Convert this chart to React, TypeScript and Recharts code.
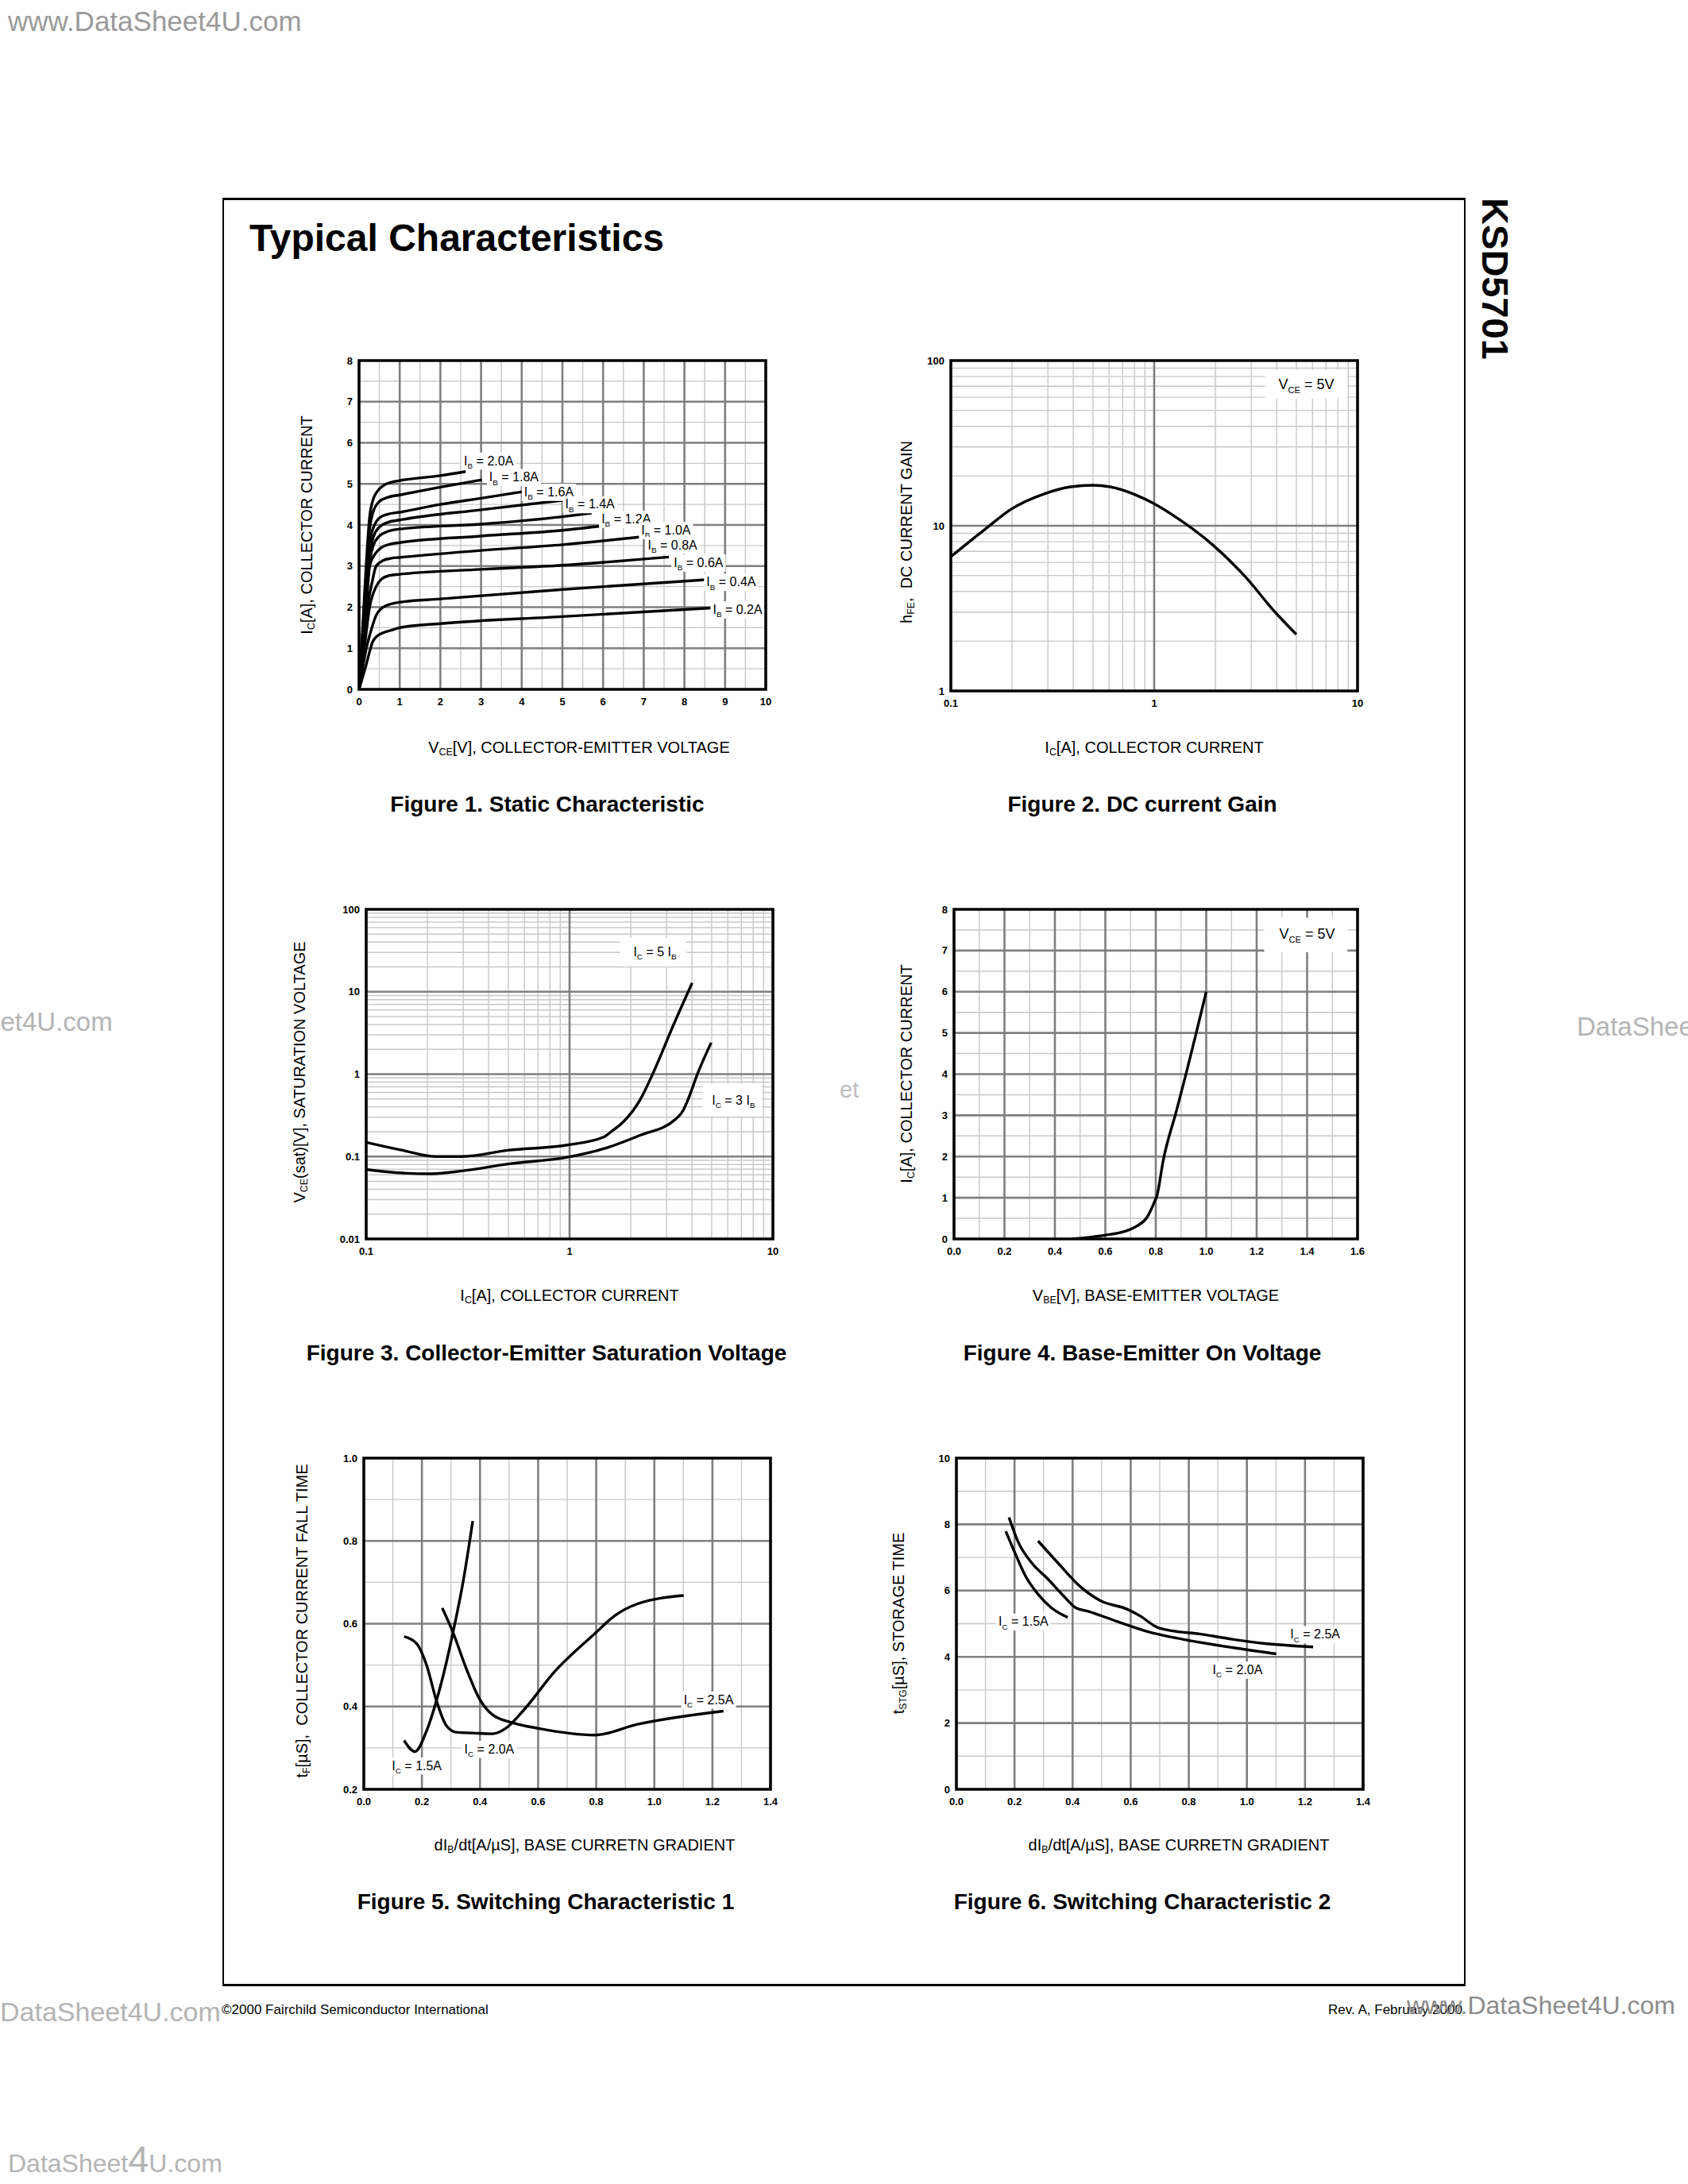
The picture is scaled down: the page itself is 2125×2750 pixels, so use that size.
import React from 'react';
import { LineChart, Line, XAxis, YAxis, ReferenceLine, ReferenceArea, ReferenceDot } from 'recharts';

const FONT = '"Liberation Sans", Arial, Helvetica, sans-serif';

type Pt = { x: number; y: number };
type Part = [string, boolean];
type Lbl = { x: number; y: number; parts: Part[] };
type Box = { x1: number; x2: number; y1: number; y2: number };

// ---------- Figure 1: Static Characteristic ----------
const fig1Ib02: Pt[] = [
  { x: 0, y: 0 }, { x: 0.17, y: 0.58 }, { x: 0.34, y: 1.17 }, { x: 0.45, y: 1.3 }, { x: 0.6, y: 1.38 },
  { x: 0.8, y: 1.44 }, { x: 1.0, y: 1.5 }, { x: 2, y: 1.6 }, { x: 5, y: 1.77 }, { x: 9.02, y: 2.0 },
];
const fig1Ib04: Pt[] = [
  { x: 0, y: 0 }, { x: 0.18, y: 1.0 }, { x: 0.3, y: 1.45 }, { x: 0.42, y: 1.8 }, { x: 0.55, y: 1.97 },
  { x: 0.7, y: 2.05 }, { x: 1.0, y: 2.12 }, { x: 2, y: 2.2 }, { x: 5, y: 2.43 }, { x: 8.55, y: 2.67 },
];
const fig1Ib06: Pt[] = [
  { x: 0, y: 0 }, { x: 0.13, y: 1.0 }, { x: 0.26, y: 2.0 }, { x: 0.42, y: 2.5 }, { x: 0.55, y: 2.68 },
  { x: 0.75, y: 2.77 }, { x: 1.0, y: 2.8 }, { x: 3, y: 2.92 }, { x: 5, y: 3.02 }, { x: 7.62, y: 3.22 },
];
const fig1Ib08: Pt[] = [
  { x: 0, y: 0 }, { x: 0.12, y: 1.0 }, { x: 0.21, y: 2.0 }, { x: 0.32, y: 2.6 }, { x: 0.42, y: 3.0 },
  { x: 0.6, y: 3.14 }, { x: 0.8, y: 3.19 }, { x: 1.0, y: 3.21 }, { x: 3, y: 3.38 }, { x: 5, y: 3.52 }, { x: 7.02, y: 3.72 },
];
const fig1Ib10: Pt[] = [
  { x: 0, y: 0 }, { x: 0.1, y: 1.0 }, { x: 0.18, y: 2.0 }, { x: 0.26, y: 3.0 }, { x: 0.4, y: 3.3 },
  { x: 0.55, y: 3.45 }, { x: 0.75, y: 3.53 }, { x: 1.0, y: 3.57 }, { x: 3, y: 3.73 }, { x: 5, y: 3.87 }, { x: 6.02, y: 3.98 },
];
const fig1Ib12: Pt[] = [
  { x: 0, y: 0 }, { x: 0.1, y: 1.1 }, { x: 0.18, y: 2.2 }, { x: 0.26, y: 3.1 }, { x: 0.35, y: 3.5 },
  { x: 0.5, y: 3.73 }, { x: 0.7, y: 3.84 }, { x: 1.0, y: 3.9 }, { x: 3, y: 4.02 }, { x: 5, y: 4.2 }, { x: 5.72, y: 4.29 },
];
const fig1Ib14: Pt[] = [
  { x: 0, y: 0 }, { x: 0.1, y: 1.2 }, { x: 0.18, y: 2.4 }, { x: 0.26, y: 3.3 }, { x: 0.35, y: 3.7 },
  { x: 0.5, y: 3.95 }, { x: 0.7, y: 4.06 }, { x: 1.0, y: 4.12 }, { x: 3, y: 4.37 }, { x: 5.02, y: 4.6 },
];
const fig1Ib16: Pt[] = [
  { x: 0, y: 0 }, { x: 0.1, y: 1.3 }, { x: 0.18, y: 2.6 }, { x: 0.27, y: 3.6 }, { x: 0.38, y: 4.0 },
  { x: 0.5, y: 4.17 }, { x: 0.7, y: 4.26 }, { x: 1.0, y: 4.31 }, { x: 2, y: 4.5 }, { x: 3, y: 4.65 }, { x: 4.02, y: 4.81 },
];
const fig1Ib18: Pt[] = [
  { x: 0, y: 0 }, { x: 0.1, y: 1.5 }, { x: 0.18, y: 2.9 }, { x: 0.26, y: 3.9 }, { x: 0.34, y: 4.3 },
  { x: 0.5, y: 4.57 }, { x: 0.7, y: 4.67 }, { x: 1.0, y: 4.73 }, { x: 2, y: 4.92 }, { x: 3.02, y: 5.1 },
];
const fig1Ib20: Pt[] = [
  { x: 0, y: 0 }, { x: 0.1, y: 1.7 }, { x: 0.18, y: 3.1 }, { x: 0.26, y: 4.2 }, { x: 0.34, y: 4.6 },
  { x: 0.45, y: 4.82 }, { x: 0.6, y: 4.96 }, { x: 0.8, y: 5.04 }, { x: 1.0, y: 5.08 }, { x: 2, y: 5.2 }, { x: 2.62, y: 5.3 },
];
const fig1Labels: Lbl[] = [
  { x: 2.58, y: 5.57, parts: [['I', false], ['B', true], [' = 2.0A', false]] },
  { x: 3.2, y: 5.17, parts: [['I', false], ['B', true], [' = 1.8A', false]] },
  { x: 4.06, y: 4.81, parts: [['I', false], ['B', true], [' = 1.6A', false]] },
  { x: 5.07, y: 4.51, parts: [['I', false], ['B', true], [' = 1.4A', false]] },
  { x: 5.96, y: 4.15, parts: [['I', false], ['B', true], [' = 1.2A', false]] },
  { x: 6.94, y: 3.88, parts: [['I', false], ['B', true], [' = 1.0A', false]] },
  { x: 7.1, y: 3.52, parts: [['I', false], ['B', true], [' = 0.8A', false]] },
  { x: 7.74, y: 3.09, parts: [['I', false], ['B', true], [' = 0.6A', false]] },
  { x: 8.54, y: 2.62, parts: [['I', false], ['B', true], [' = 0.4A', false]] },
  { x: 8.7, y: 1.95, parts: [['I', false], ['B', true], [' = 0.2A', false]] },
];
const fig1XTicks = [0, 1, 2, 3, 4, 5, 6, 7, 8, 9, 10];
const fig1YTicks = [0, 1, 2, 3, 4, 5, 6, 7, 8];
const fig1XMajor = [1, 2, 3, 4, 5, 6, 7, 8, 9];
const fig1XMinor = [0.5, 1.5, 2.5, 3.5, 4.5, 5.5, 6.5, 7.5, 8.5, 9.5];
const fig1YMajor = [1, 2, 3, 4, 5, 6, 7];
const fig1YMinor = [0.5, 1.5, 2.5, 3.5, 4.5, 5.5, 6.5, 7.5];

// ---------- Figure 2: DC current Gain ----------
const fig2Hfe: Pt[] = [
  { x: 0.1, y: 6.5 }, { x: 0.147, y: 9.5 }, { x: 0.198, y: 12.6 }, { x: 0.288, y: 15.6 }, { x: 0.388, y: 17.2 },
  { x: 0.5, y: 17.6 }, { x: 0.607, y: 17.2 }, { x: 0.819, y: 15.3 }, { x: 0.987, y: 13.7 }, { x: 1.33, y: 10.9 },
  { x: 1.93, y: 7.7 }, { x: 2.81, y: 4.9 }, { x: 3.93, y: 3.0 }, { x: 5.0, y: 2.2 },
];
const fig2XTicks = [0.1, 1, 10];
const fig2YTicks = [1, 10, 100];
const logMinorX = [0.2, 0.3, 0.4, 0.5, 0.6, 0.7, 0.8, 0.9, 2, 3, 4, 5, 6, 7, 8, 9];
const fig2YMinor = [2, 3, 4, 5, 6, 7, 8, 9, 20, 30, 40, 50, 60, 70, 80, 90];
const fig2Box: Box[] = [{ x1: 3.5, x2: 8.9, y1: 59, y2: 88 }];
const fig2Notes: Lbl[] = [{ x: 5.6, y: 72, parts: [['V', false], ['CE', true], [' = 5V', false]] }];

// ---------- Figure 3: Collector-Emitter Saturation Voltage ----------
const fig3Ic5Ib: Pt[] = [
  { x: 0.1, y: 0.149 }, { x: 0.151, y: 0.119 }, { x: 0.219, y: 0.1 }, { x: 0.295, y: 0.1 }, { x: 0.498, y: 0.119 },
  { x: 0.975, y: 0.138 }, { x: 1.47, y: 0.172 }, { x: 1.6, y: 0.2 }, { x: 1.84, y: 0.264 }, { x: 2.22, y: 0.485 },
  { x: 2.58, y: 1.04 }, { x: 3.22, y: 3.79 }, { x: 4.01, y: 12.8 },
];
const fig3Ic3Ib: Pt[] = [
  { x: 0.1, y: 0.0697 }, { x: 0.151, y: 0.063 }, { x: 0.211, y: 0.0617 }, { x: 0.295, y: 0.0668 }, { x: 0.498, y: 0.0812 },
  { x: 0.975, y: 0.0981 }, { x: 1.53, y: 0.128 }, { x: 2.22, y: 0.181 }, { x: 3.3, y: 0.28 }, { x: 3.61, y: 0.358 },
  { x: 3.82, y: 0.488 }, { x: 4.28, y: 1.04 }, { x: 4.97, y: 2.41 },
];
const fig3YTicks = [0.01, 0.1, 1, 10, 100];
const fig3YMinor = [
  0.02, 0.03, 0.04, 0.05, 0.06, 0.07, 0.08, 0.09, 0.2, 0.3, 0.4, 0.5, 0.6, 0.7, 0.8, 0.9,
  2, 3, 4, 5, 6, 7, 8, 9, 20, 30, 40, 50, 60, 70, 80, 90,
];
const fig3Boxes: Box[] = [
  { x1: 1.77, x2: 3.74, y1: 20.2, y2: 45 },
  { x1: 4.52, x2: 8.84, y1: 0.307, y2: 0.766 },
];
const fig3Notes: Lbl[] = [
  { x: 2.63, y: 30.7, parts: [['I', false], ['C', true], [' = 5 I', false], ['B', true]] },
  { x: 6.4, y: 0.485, parts: [['I', false], ['C', true], [' = 3 I', false], ['B', true]] },
];

// ---------- Figure 4: Base-Emitter On Voltage ----------
const fig4Ic: Pt[] = [
  { x: 0.47, y: 0 }, { x: 0.597, y: 0.09 }, { x: 0.675, y: 0.18 }, { x: 0.727, y: 0.32 }, { x: 0.766, y: 0.53 },
  { x: 0.792, y: 0.86 }, { x: 0.805, y: 1.06 }, { x: 0.83, y: 1.92 }, { x: 0.882, y: 3.11 }, { x: 0.921, y: 4.03 },
  { x: 0.96, y: 4.99 }, { x: 1.0, y: 6.0 },
];
const fig4XTicks = [0, 0.2, 0.4, 0.6, 0.8, 1.0, 1.2, 1.4, 1.6];
const fig4YTicks = [0, 1, 2, 3, 4, 5, 6, 7, 8];
const fig4XMajor = [0.2, 0.4, 0.6, 0.8, 1.0, 1.2, 1.4];
const fig4XMinor = [0.1, 0.3, 0.5, 0.7, 0.9, 1.1, 1.3, 1.5];
const fig4Box: Box[] = [{ x1: 1.23, x2: 1.56, y1: 6.96, y2: 7.8 }];
const fig4Notes: Lbl[] = [{ x: 1.4, y: 7.42, parts: [['V', false], ['CE', true], [' = 5V', false]] }];

// ---------- Figure 5: Switching Characteristic 1 ----------
const fig5Ic15: Pt[] = [
  { x: 0.1385, y: 0.318 }, { x: 0.176, y: 0.291 }, { x: 0.216, y: 0.341 }, { x: 0.25, y: 0.414 },
  { x: 0.284, y: 0.506 }, { x: 0.307, y: 0.579 }, { x: 0.341, y: 0.698 }, { x: 0.375, y: 0.848 },
];
const fig5Ic20: Pt[] = [
  { x: 0.1385, y: 0.569 }, { x: 0.182, y: 0.552 }, { x: 0.216, y: 0.5 }, { x: 0.25, y: 0.414 }, { x: 0.284, y: 0.354 },
  { x: 0.318, y: 0.338 }, { x: 0.375, y: 0.336 }, { x: 0.443, y: 0.334 }, { x: 0.488, y: 0.347 }, { x: 0.545, y: 0.387 },
  { x: 0.659, y: 0.486 }, { x: 0.795, y: 0.576 }, { x: 0.863, y: 0.619 }, { x: 0.942, y: 0.648 }, { x: 1.101, y: 0.668 },
];
const fig5Ic25: Pt[] = [
  { x: 0.27, y: 0.638 }, { x: 0.307, y: 0.579 }, { x: 0.352, y: 0.493 }, { x: 0.397, y: 0.42 }, { x: 0.443, y: 0.38 },
  { x: 0.511, y: 0.361 }, { x: 0.602, y: 0.347 }, { x: 0.795, y: 0.331 }, { x: 0.942, y: 0.357 }, { x: 1.238, y: 0.389 },
];
const fig5Labels: Lbl[] = [
  { x: 0.0965, y: 0.258, parts: [['I', false], ['C', true], [' = 1.5A', false]] },
  { x: 0.346, y: 0.298, parts: [['I', false], ['C', true], [' = 2.0A', false]] },
  { x: 1.101, y: 0.417, parts: [['I', false], ['C', true], [' = 2.5A', false]] },
];
const swXTicks = [0, 0.2, 0.4, 0.6, 0.8, 1.0, 1.2, 1.4];
const swXMajor = [0.2, 0.4, 0.6, 0.8, 1.0, 1.2];
const swXMinor = [0.1, 0.3, 0.5, 0.7, 0.9, 1.1, 1.3];
const fig5YTicks = [0.2, 0.4, 0.6, 0.8, 1.0];
const fig5YMajor = [0.4, 0.6, 0.8];
const fig5YMinor = [0.3, 0.5, 0.7, 0.9];

// ---------- Figure 6: Switching Characteristic 2 ----------
const fig6Ic15: Pt[] = [
  { x: 0.17, y: 7.79 }, { x: 0.202, y: 7.13 }, { x: 0.236, y: 6.47 }, { x: 0.281, y: 5.89 }, { x: 0.327, y: 5.48 }, { x: 0.383, y: 5.19 },
];
const fig6Ic20: Pt[] = [
  { x: 0.181, y: 8.21 }, { x: 0.213, y: 7.46 }, { x: 0.259, y: 6.84 }, { x: 0.315, y: 6.35 }, { x: 0.372, y: 5.81 },
  { x: 0.411, y: 5.48 }, { x: 0.451, y: 5.38 }, { x: 0.553, y: 5.07 }, { x: 0.667, y: 4.74 }, { x: 0.78, y: 4.53 },
  { x: 0.95, y: 4.28 }, { x: 1.101, y: 4.09 },
];
const fig6Ic25: Pt[] = [
  { x: 0.281, y: 7.5 }, { x: 0.349, y: 6.84 }, { x: 0.429, y: 6.1 }, { x: 0.497, y: 5.69 }, { x: 0.587, y: 5.44 },
  { x: 0.633, y: 5.23 }, { x: 0.689, y: 4.9 }, { x: 0.746, y: 4.78 }, { x: 0.837, y: 4.69 }, { x: 0.95, y: 4.53 },
  { x: 1.063, y: 4.4 }, { x: 1.228, y: 4.3 },
];
const fig6Labels: Lbl[] = [
  { x: 0.145, y: 5.07, parts: [['I', false], ['C', true], [' = 1.5A', false]] },
  { x: 0.882, y: 3.62, parts: [['I', false], ['C', true], [' = 2.0A', false]] },
  { x: 1.149, y: 4.69, parts: [['I', false], ['C', true], [' = 2.5A', false]] },
];
const fig6YTicks = [0, 2, 4, 6, 8, 10];
const fig6YMajor = [2, 4, 6, 8];
const fig6YMinor = [1, 3, 5, 7, 9];

// ---------- helpers ----------
const CW: Record<string, number> = {
  ' ': 0.278, '=': 0.584, '.': 0.278, A: 0.667, I: 0.278, V: 0.667, B: 0.667, C: 0.722, E: 0.667,
};
function estWidth(parts: Part[], fs: number) {
  let s = 0;
  for (const [t, sub] of parts) {
    for (const ch of t) {
      const w = CW[ch] ?? (ch >= '0' && ch <= '9' ? 0.556 : 0.6);
      s += w * (sub ? 0.62 : 1);
    }
  }
  return s * fs;
}

function RichText({ x, y, parts, fs, anchor = 'start' }: { x: number; y: number; parts: Part[]; fs: number; anchor?: string }) {
  let shifted = false;
  const sh = fs * 0.28;
  return (
    <text x={x} y={y} fontSize={fs} fontFamily={FONT} textAnchor={anchor as any} fill="#000" style={{ whiteSpace: 'pre' }}>
      {parts.map(([t, s], i) => {
        let dy = 0;
        if (s && !shifted) { dy = sh; shifted = true; }
        else if (!s && shifted) { dy = -sh; shifted = false; }
        return (
          <tspan key={i} dy={dy} fontSize={s ? fs * 0.62 : fs}>{t}</tspan>
        );
      })}
    </text>
  );
}

function CurveLabel({ cx, cy, parts, fs, anchor, box }: { cx: number; cy: number; parts: Part[]; fs: number; anchor: 'start' | 'middle'; box: boolean }) {
  const w = estWidth(parts, fs);
  const x0 = anchor === 'middle' ? cx - w / 2 : cx;
  return (
    <g>
      {box && <rect x={x0 - 3} y={cy - fs * 0.62} width={w + 6} height={fs * 1.35} fill="#fff" />}
      <RichText x={x0} y={cy + fs * 0.36} parts={parts} fs={fs} />
    </g>
  );
}

type Cfg = {
  left: number; top: number; w: number; h: number;
  logX: boolean; logY: boolean;
  xDomain: [number, number]; yDomain: [number, number];
  xTicks: number[]; yTicks: number[];
  xFmt: (v: number) => string; yFmt: (v: number) => string;
  xMajor: number[]; xMinor: number[]; yMajor: number[]; yMinor: number[];
  series: Pt[][];
  labels: Lbl[];
  boxes: Box[];
  notes: Lbl[];
  noteFs: number;
};

const TICK = { fontSize: 13, fontWeight: 700, fill: '#000', fontFamily: FONT } as any;
const MAJOR = '#7f7f7f';
const MINOR = '#c8c8c8';

function Plot({ c }: { c: Cfg }) {
  const ML = 60, MT = 14, MR = 24, XH = 44;
  return (
    <div style={{ position: 'absolute', left: c.left - ML, top: c.top - MT }}>
      <LineChart width={ML + c.w + MR} height={MT + c.h + XH} margin={{ top: MT, right: MR, bottom: 0, left: 0 }}>
        <XAxis
          type="number" dataKey="x" scale={c.logX ? 'log' : 'linear'} domain={c.xDomain} ticks={c.xTicks}
          allowDataOverflow interval={0} tickFormatter={c.xFmt} tickLine={false} axisLine={false}
          tickSize={0} tickMargin={11} height={XH} tick={TICK}
        />
        <YAxis
          type="number" dataKey="y" scale={c.logY ? 'log' : 'linear'} domain={c.yDomain} ticks={c.yTicks}
          allowDataOverflow interval={0} tickFormatter={c.yFmt} tickLine={false} axisLine={false}
          tickSize={0} tickMargin={8} width={ML} tick={TICK}
        />
        {c.xMinor.map((v) => (
          <ReferenceLine key={'xn' + v} x={v} stroke={MINOR} strokeWidth={1.4} zIndex={-130} />
        ))}
        {c.yMinor.map((v) => (
          <ReferenceLine key={'yn' + v} y={v} stroke={MINOR} strokeWidth={1.4} zIndex={-130} />
        ))}
        {c.xMajor.map((v) => (
          <ReferenceLine key={'xj' + v} x={v} stroke={MAJOR} strokeWidth={2.6} zIndex={-120} />
        ))}
        {c.yMajor.map((v) => (
          <ReferenceLine key={'yj' + v} y={v} stroke={MAJOR} strokeWidth={2.6} zIndex={-120} />
        ))}
        {c.boxes.map((b, i) => (
          <ReferenceArea key={'b' + i} x1={b.x1} x2={b.x2} y1={b.y1} y2={b.y2} fill="#fff" fillOpacity={1} stroke="none" zIndex={-110} />
        ))}
        {c.series.map((s, i) => (
          <Line
            key={'s' + i} data={s} dataKey="y" type="monotone" stroke="#000" strokeWidth={3.4}
            dot={false} activeDot={false} isAnimationActive={false} legendType="none"
          />
        ))}
        {c.labels.map((l, i) => (
          <ReferenceDot
            key={'l' + i} x={l.x} y={l.y} r={0} ifOverflow="visible" zIndex={1000}
            shape={(p: any) => <CurveLabel cx={p.cx} cy={p.cy} parts={l.parts} fs={16} anchor="start" box />}
          />
        ))}
        {c.notes.map((l, i) => (
          <ReferenceDot
            key={'n' + i} x={l.x} y={l.y} r={0} ifOverflow="visible" zIndex={1000}
            shape={(p: any) => <CurveLabel cx={p.cx} cy={p.cy} parts={l.parts} fs={c.noteFs} anchor="middle" box={false} />}
          />
        ))}
        <ReferenceArea
          x1={c.xDomain[0]} x2={c.xDomain[1]} y1={c.yDomain[0]} y2={c.yDomain[1]}
          fill="none" fillOpacity={0} stroke="#000" strokeWidth={3.6} zIndex={1500}
        />
      </LineChart>
    </div>
  );
}

const fmtInt = (v: number) => String(v);
const fmt1 = (v: number) => v.toFixed(1);

const cfgs: Cfg[] = [
  {
    left: 452, top: 454, w: 512, h: 414, logX: false, logY: false, xDomain: [0, 10], yDomain: [0, 8],
    xTicks: fig1XTicks, yTicks: fig1YTicks, xFmt: fmtInt, yFmt: fmtInt,
    xMajor: fig1XMajor, xMinor: fig1XMinor, yMajor: fig1YMajor, yMinor: fig1YMinor,
    series: [fig1Ib02, fig1Ib04, fig1Ib06, fig1Ib08, fig1Ib10, fig1Ib12, fig1Ib14, fig1Ib16, fig1Ib18, fig1Ib20],
    labels: fig1Labels, boxes: [], notes: [], noteFs: 17,
  },
  {
    left: 1197, top: 454, w: 512, h: 416, logX: true, logY: true, xDomain: [0.1, 10], yDomain: [1, 100],
    xTicks: fig2XTicks, yTicks: fig2YTicks, xFmt: fmtInt, yFmt: fmtInt,
    xMajor: [1], xMinor: logMinorX, yMajor: [10], yMinor: fig2YMinor,
    series: [fig2Hfe], labels: [], boxes: fig2Box, notes: fig2Notes, noteFs: 18,
  },
  {
    left: 461, top: 1145, w: 512, h: 415, logX: true, logY: true, xDomain: [0.1, 10], yDomain: [0.01, 100],
    xTicks: fig2XTicks, yTicks: fig3YTicks, xFmt: fmtInt, yFmt: fmtInt,
    xMajor: [1], xMinor: logMinorX, yMajor: [0.1, 1, 10], yMinor: fig3YMinor,
    series: [fig3Ic5Ib, fig3Ic3Ib], labels: [], boxes: fig3Boxes, notes: fig3Notes, noteFs: 16,
  },
  {
    left: 1201, top: 1145, w: 508, h: 415, logX: false, logY: false, xDomain: [0, 1.6], yDomain: [0, 8],
    xTicks: fig4XTicks, yTicks: fig4YTicks, xFmt: fmt1, yFmt: fmtInt,
    xMajor: fig4XMajor, xMinor: fig4XMinor, yMajor: fig1YMajor, yMinor: fig1YMinor,
    series: [fig4Ic], labels: [], boxes: fig4Box, notes: fig4Notes, noteFs: 18,
  },
  {
    left: 458, top: 1836, w: 512, h: 417, logX: false, logY: false, xDomain: [0, 1.4], yDomain: [0.2, 1.0],
    xTicks: swXTicks, yTicks: fig5YTicks, xFmt: fmt1, yFmt: fmt1,
    xMajor: swXMajor, xMinor: swXMinor, yMajor: fig5YMajor, yMinor: fig5YMinor,
    series: [fig5Ic15, fig5Ic20, fig5Ic25], labels: fig5Labels, boxes: [], notes: [], noteFs: 16,
  },
  {
    left: 1204, top: 1836, w: 512, h: 417, logX: false, logY: false, xDomain: [0, 1.4], yDomain: [0, 10],
    xTicks: swXTicks, yTicks: fig6YTicks, xFmt: fmt1, yFmt: fmtInt,
    xMajor: swXMajor, xMinor: swXMinor, yMajor: fig6YMajor, yMinor: fig6YMinor,
    series: [fig6Ic15, fig6Ic20, fig6Ic25], labels: fig6Labels, boxes: [], notes: [], noteFs: 16,
  },
];

const Sub = ({ children }: { children: React.ReactNode }) => (
  <span style={{ fontSize: '0.62em', position: 'relative', top: '0.28em' }}>{children}</span>
);

function Txt({ x, y, rot, size, bold, children, color, anchor }: any) {
  const tx = anchor === 'left' ? '0' : '-50%';
  return (
    <div
      style={{
        position: 'absolute', left: x, top: y, whiteSpace: 'pre', fontFamily: FONT, fontSize: size,
        fontWeight: bold ? 700 : 400, color: color || '#000', lineHeight: 1,
        transform: `translate(${tx}, -50%)${rot ? ` rotate(${rot}deg)` : ''}`,
        transformOrigin: anchor === 'left' ? '0 50%' : '50% 50%',
      }}
    >
      {children}
    </div>
  );
}

function YTitle({ x, y, children }: any) {
  return (
    <div
      style={{
        position: 'absolute', left: x, top: y, whiteSpace: 'pre', fontFamily: FONT, fontSize: 20,
        lineHeight: 1, transform: 'translate(-50%, -50%) rotate(-90deg)',
      }}
    >
      {children}
    </div>
  );
}

export default function App() {
  return (
    <div
      style={{
        position: 'absolute', left: 0, top: 0, width: 2125, height: 2750, background: '#fff',
        overflow: 'hidden', fontFamily: FONT,
      }}
    >
      {/* watermarks */}
      <Txt x={10} y={26} size={35} color="#9a9a9a" anchor="left">www.DataSheet4U.com</Txt>
      <Txt x={-128} y={1286} size={33} color="#b4b4b4" anchor="left">DataSheet4U.com</Txt>
      <Txt x={1985} y={1292} size={33} color="#b4b4b4" anchor="left">DataSheet4U.com</Txt>
      <Txt x={1057} y={1372} size={29} color="#bdbdbd" anchor="left">et</Txt>
      <Txt x={0} y={2533} size={34} color="#b4b4b4" anchor="left">DataSheet4U.com</Txt>
      <Txt x={10} y={2718} size={32} color="#b4b4b4" anchor="left">
        DataSheet<span style={{ fontSize: 47 }}>4</span>U.com
      </Txt>

      {/* page frame */}
      <div
        style={{
          position: 'absolute', left: 280, top: 249, width: 1561, height: 2246,
          borderTop: '3px solid #000', borderBottom: '3px solid #000', borderLeft: '2px solid #000', borderRight: '2px solid #000',
        }}
      />
      <div
        style={{
          position: 'absolute', left: 314, top: 276, fontFamily: FONT, fontSize: 48, fontWeight: 700, lineHeight: 1,
          whiteSpace: 'pre',
        }}
      >
        Typical Characteristics
      </div>
      <div
        style={{
          position: 'absolute', left: 1882, top: 351, fontFamily: FONT, fontSize: 47, fontWeight: 700, lineHeight: 1,
          whiteSpace: 'pre', transform: 'translate(-50%, -50%) rotate(90deg)',
        }}
      >
        KSD5701
      </div>

      {cfgs.map((c, i) => <Plot key={i} c={c} />)}

      {/* axis titles */}
      <Txt x={729} y={941} size={20}>V<Sub>CE</Sub>[V], COLLECTOR-EMITTER VOLTAGE</Txt>
      <YTitle x={386} y={661}>I<Sub>C</Sub>[A], COLLECTOR CURRENT</YTitle>
      <Txt x={1453} y={941} size={20}>I<Sub>C</Sub>[A], COLLECTOR CURRENT</Txt>
      <YTitle x={1141} y={670}>h<Sub>FE</Sub>,  DC CURRENT GAIN</YTitle>

      <Txt x={717} y={1631} size={20}>I<Sub>C</Sub>[A], COLLECTOR CURRENT</Txt>
      <YTitle x={377} y={1350}>V<Sub>CE</Sub>(sat)[V], SATURATION VOLTAGE</YTitle>
      <Txt x={1455} y={1631} size={20}>V<Sub>BE</Sub>[V], BASE-EMITTER VOLTAGE</Txt>
      <YTitle x={1141} y={1352}>I<Sub>C</Sub>[A], COLLECTOR CURRENT</YTitle>

      <Txt x={736} y={2323} size={20}>dI<Sub>B</Sub>/dt[A/µS], BASE CURRETN GRADIENT</Txt>
      <YTitle x={380} y={2041}>t<Sub>F</Sub>[µS],  COLLECTOR CURRENT FALL TIME</YTitle>
      <Txt x={1484} y={2323} size={20}>dI<Sub>B</Sub>/dt[A/µS], BASE CURRETN GRADIENT</Txt>
      <YTitle x={1131} y={2044}>t<Sub>STG</Sub>[µS], STORAGE TIME</YTitle>

      {/* captions */}
      <Txt x={689} y={1013} size={28} bold>Figure 1. Static Characteristic</Txt>
      <Txt x={1438} y={1013} size={28} bold>Figure 2. DC current Gain</Txt>
      <Txt x={688} y={1704} size={28} bold>Figure 3. Collector-Emitter Saturation Voltage</Txt>
      <Txt x={1438} y={1704} size={28} bold>Figure 4. Base-Emitter On Voltage</Txt>
      <Txt x={687} y={2395} size={28} bold>Figure 5. Switching Characteristic 1</Txt>
      <Txt x={1438} y={2395} size={28} bold>Figure 6. Switching Characteristic 2</Txt>

      {/* footer */}
      <Txt x={279} y={2530} size={17} anchor="left">©2000 Fairchild Semiconductor International</Txt>
      <Txt x={1672} y={2530} size={17} anchor="left">Rev. A, February 2000</Txt>
      <Txt x={1771} y={2525} size={32} color="#8c8c8c" anchor="left">www.DataSheet4U.com</Txt>
    </div>
  );
}
